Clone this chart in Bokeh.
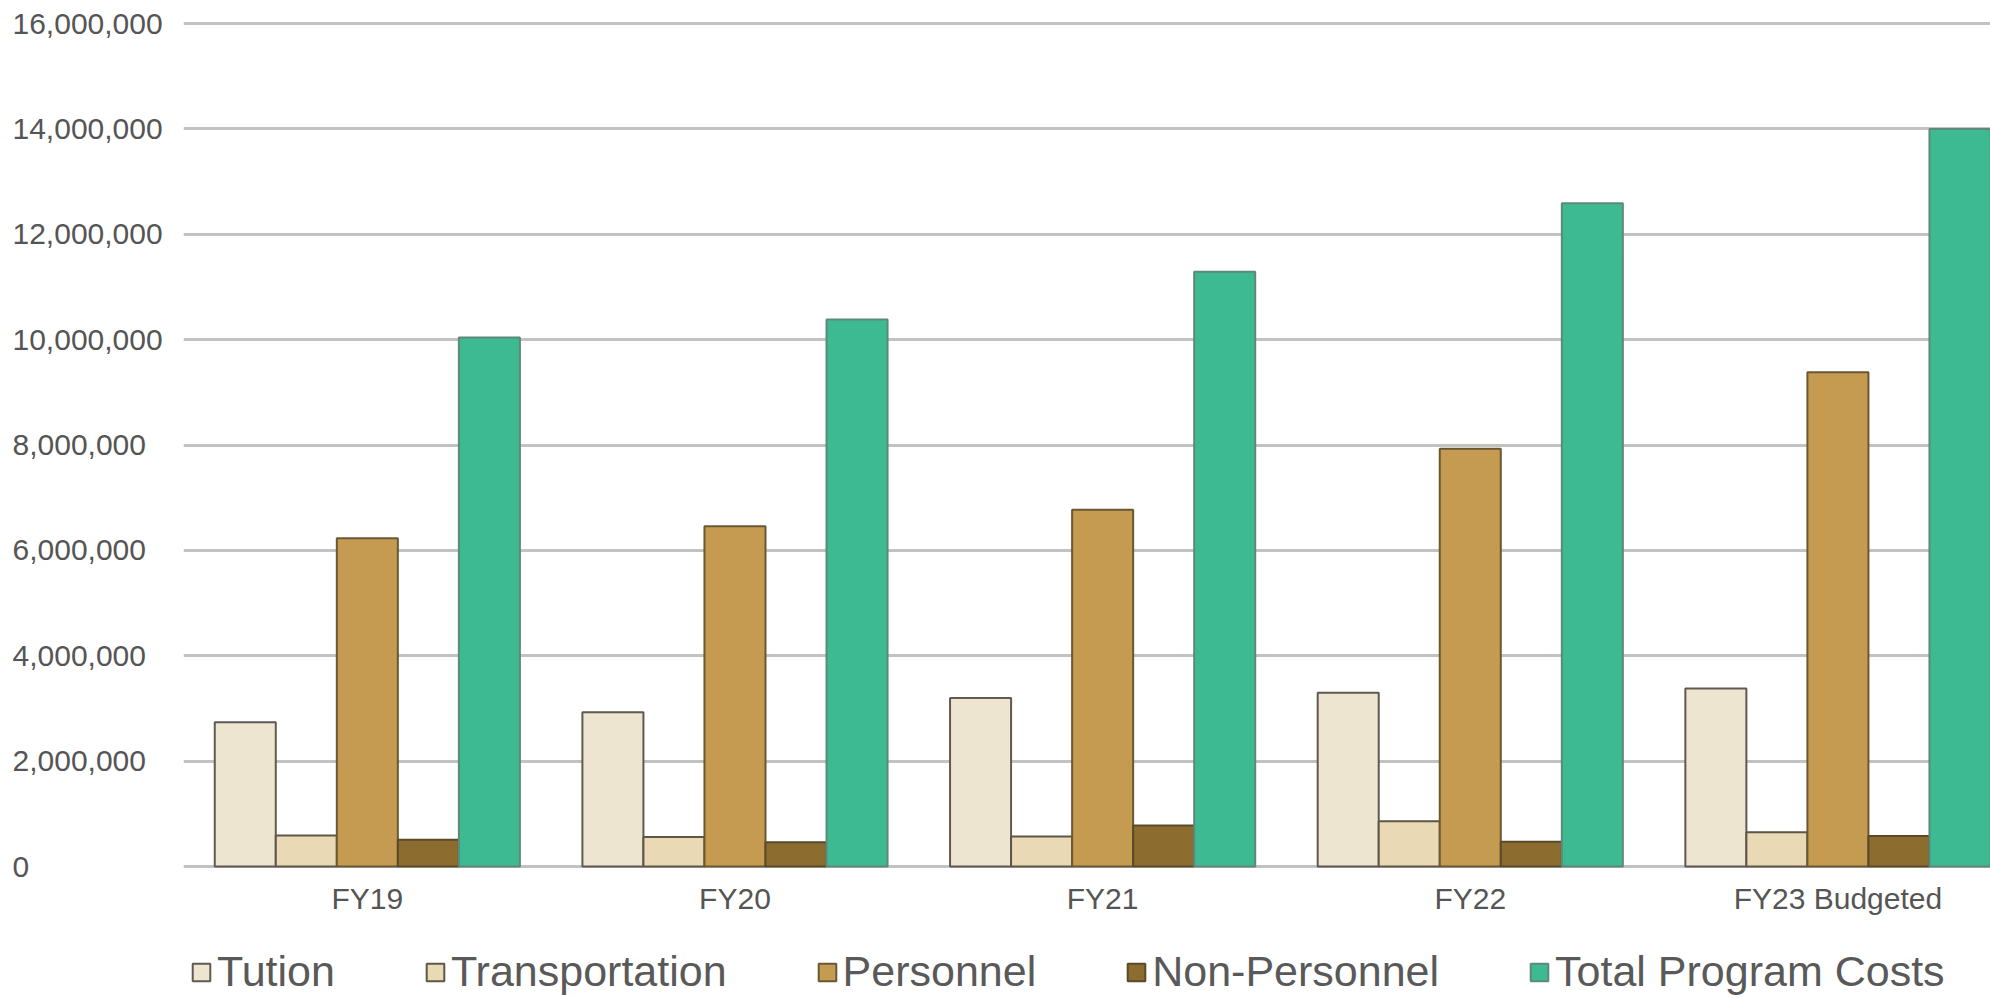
from bokeh.plotting import figure
from bokeh.models import (ColumnDataSource, FixedTicker, Range1d, Legend, LegendItem, Grid)
from bokeh.layouts import row, column
from bokeh.transform import dodge
from bokeh.core.properties import value
from bokeh.embed import file_html
from bokeh.resources import INLINE

# ---- data ----
years = ["FY19", "FY20", "FY21", "FY22", "FY23 Budgeted"]
tution = [2740000, 2930000, 3200000, 3300000, 3380000]
transportation = [590000, 560000, 570000, 860000, 650000]
personnel = [6230000, 6460000, 6770000, 7930000, 9380000]
non_personnel = [510000, 460000, 780000, 470000, 580000]
total_program_costs = [10040000, 10380000, 11290000, 12590000, 14000000]
series_names = ["Tution", "Transportation", "Personnel", "Non-Personnel", "Total Program Costs"]
y_ticks = [0, 2000000, 4000000, 6000000, 8000000, 10000000, 12000000, 14000000, 16000000]

# ---- styles / layout ----
W, H = 1990, 998
LEG_H = 70
TOP_H = H - LEG_H
LEFT = 183
MAIN_W = W - LEFT
F_TOP = 10            # frame top (px)
ZERO_PX = 866         # pixel row of value 0
TOP_TICK_PX = 23      # pixel row of top tick
FRAME_BOTTOM = 881    # frame bottom (px)
F_BOTTOM = TOP_H - FRAME_BOTTOM
X_START, X_END = -0.5, 4.415
BAR_W = 0.166
fills = ["#EEE5D1", "#EAD9B5", "#C49B50", "#8C6C2F", "#3EBA93"]
lines = ["#5E5A52", "#5E5646", "#6A5834", "#5A4A2A", "#5E8878"]
TXT = "#555555"
FONT = "Liberation Sans"

k = (ZERO_PX - TOP_TICK_PX) / y_ticks[-1]          # px per unit value
Y_END = y_ticks[-1] + (TOP_TICK_PX - F_TOP) / k
Y_START = -(FRAME_BOTTOM - ZERO_PX) / k
yr = Range1d(Y_START, Y_END)

# ---- main chart ----
p = figure(width=MAIN_W, height=TOP_H, output_backend="svg", toolbar_location=None,
           x_range=Range1d(X_START, X_END), y_range=yr,
           min_border_left=0, min_border_right=0, min_border_top=F_TOP,
           min_border_bottom=F_BOTTOM, y_axis_location=None)
p.outline_line_color = None
p.background_fill_color = "white"
p.border_fill_color = "white"
for g in p.ygrid:
    g.visible = False
for g in p.xgrid:
    g.visible = False

grid = Grid(dimension=1, ticker=FixedTicker(ticks=y_ticks),
            grid_line_color="#C2C2C2", grid_line_width=3)
p.add_layout(grid, "center")

p.xaxis.ticker = FixedTicker(ticks=list(range(len(years))))
p.xaxis.major_label_overrides = {i: y for i, y in enumerate(years)}
p.xaxis.axis_line_color = None
p.xaxis.major_tick_line_color = None
p.xaxis.minor_tick_line_color = None
p.xaxis.major_tick_out = 0
p.xaxis.major_tick_in = 0
p.xaxis.major_label_standoff = 0
p.xaxis.major_label_text_font = FONT
p.xaxis.major_label_text_font_size = "30px"
p.xaxis.major_label_text_color = TXT

src = ColumnDataSource(dict(idx=list(range(len(years))), tution=tution,
                            transportation=transportation, personnel=personnel,
                            non_personnel=non_personnel, tpc=total_program_costs))
cols = ["tution", "transportation", "personnel", "non_personnel", "tpc"]
for kk, c in enumerate(cols):
    p.vbar(x=dodge("idx", (kk - 2) * BAR_W, range=p.x_range), top=c, width=BAR_W,
           source=src, fill_color=fills[kk], line_color=lines[kk], line_width=2)

# ---- y tick labels (left-aligned, like the reference) ----
ylab = figure(width=LEFT, height=TOP_H, output_backend="svg", toolbar_location=None,
              x_range=Range1d(0, LEFT), y_range=yr,
              min_border_left=0, min_border_right=0, min_border_top=F_TOP,
              min_border_bottom=F_BOTTOM, x_axis_location=None, y_axis_location=None)
ylab.outline_line_color = None
ylab.grid.visible = False
ylab.border_fill_color = "white"
ylab.background_fill_color = "white"
ysrc = ColumnDataSource(dict(y=y_ticks, x=[12] * len(y_ticks),
                             text=[f"{v:,}" for v in y_ticks]))
ylab.text(x="x", y="y", text="text", source=ysrc, text_align="left",
          text_baseline="middle", text_font_size="30px", text_font=value(FONT),
          text_color=TXT)

# ---- legend strip ----
lg = figure(width=W, height=LEG_H, output_backend="svg", toolbar_location=None,
            x_range=Range1d(0, W), y_range=Range1d(0, LEG_H), min_border=0,
            x_axis_location=None, y_axis_location=None)
lg.outline_line_color = None
lg.grid.visible = False
lg.border_fill_color = "white"
lg.background_fill_color = "white"
proxies = []
for kk, c in enumerate(cols):
    # hidden legend proxies (same data, not drawn)
    r = lg.vbar(x="idx", top=c, width=BAR_W, source=src, fill_color=fills[kk],
                line_color=lines[kk], line_width=2, visible=False)
    proxies.append(r)
legend = Legend(items=[LegendItem(label=n, renderers=[r]) for n, r in zip(series_names, proxies)],
                orientation="horizontal", location=(190, 2),
                glyph_width=22, glyph_height=22, label_standoff=5, spacing=89,
                padding=0, margin=0, border_line_color=None, background_fill_alpha=0,
                label_text_font_size="43px", label_text_font=FONT,
                label_text_color="#595959")
lg.add_layout(legend, "center")

layout = column(row(ylab, p, spacing=0), lg, spacing=0)
open("out.html", "w").write(file_html(layout, INLINE))
